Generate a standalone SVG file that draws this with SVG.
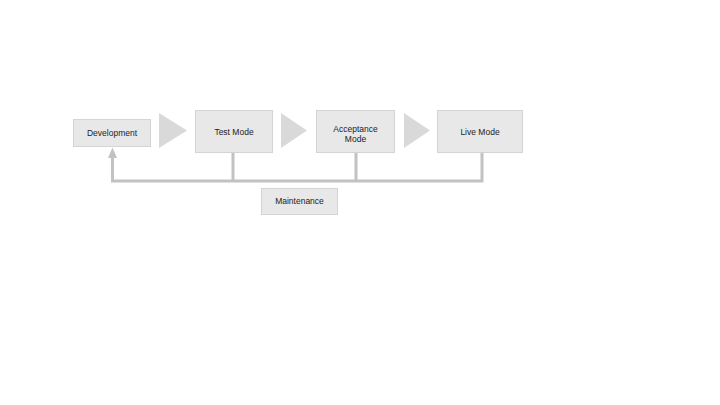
<svg xmlns="http://www.w3.org/2000/svg" width="720" height="405" viewBox="0 0 720 405">
<style>
.box{fill:#e8e8e8;stroke:#d4d4d4;stroke-width:1}
.tri{fill:#d9d9d9}
.lbl{font-family:"Liberation Sans",Arial,sans-serif;font-size:8.5px;fill:#222;text-anchor:middle}
.ln{fill:none;stroke:#c2c2c2;stroke-width:3}
</style>
<defs>
<marker id="ah" markerWidth="4" markerHeight="3" refX="1" refY="1.5" orient="auto" markerUnits="strokeWidth">
<path d="M0,0 L3.5,1.5 L0,3 Z" fill="#c2c2c2"/>
</marker>
</defs>
<rect width="720" height="405" fill="#ffffff"/>
<g id="connectors">
<path class="ln" d="M233,152 V181 M356,152 V181 M482,152 V181 H112.5 V155" marker-end="url(#ah)"/>
<polygon class="tri" points="159,113 187,130.5 159,148"/>
<polygon class="tri" points="281,113 307,130.5 281,148"/>
<polygon class="tri" points="404,113 430,130.5 404,148"/>
</g>
<g id="development">
<rect class="box" x="73.5" y="119.5" width="77" height="27"/>
<text class="lbl" x="112" y="136">Development</text>
</g>
<g id="test">
<rect class="box" x="195.5" y="110.5" width="77" height="42"/>
<text class="lbl" x="234" y="135">Test Mode</text>
</g>
<g id="acceptance">
<rect class="box" x="316.5" y="110.5" width="78" height="42"/>
<text class="lbl" x="355.5" y="132">Acceptance</text>
<text class="lbl" x="355.5" y="142">Mode</text>
</g>
<g id="live">
<rect class="box" x="437.5" y="110.5" width="85" height="42"/>
<text class="lbl" x="480" y="135">Live Mode</text>
</g>
<g id="maintenance">
<rect class="box" x="261.5" y="188.5" width="76" height="26"/>
<text class="lbl" x="299.5" y="204">Maintenance</text>
</g>
</svg>
